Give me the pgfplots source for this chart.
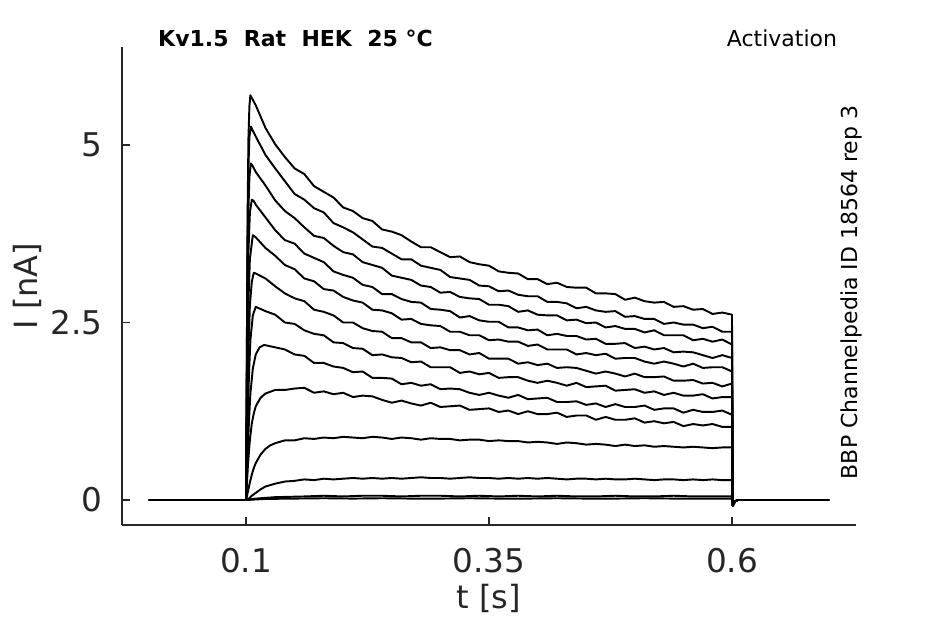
\documentclass[border=0pt]{standalone}
\usepackage{pgfplots}
\pgfplotsset{compat=1.18}
\usepackage{fontspec}
\setmainfont{DejaVu Sans}
\definecolor{axgray}{RGB}{38,38,38}
\pgfplotsset{tr/.style={black, mark=none, line width=1.45pt, line join=round}}
\begin{document}
\begin{tikzpicture}
\path[use as bounding box] (0,0) rectangle (708.75pt,468pt);
\begin{axis}[
  at={(91.5pt,74.25pt)}, anchor=south west,
  scale only axis, width=550.5pt, height=358.5pt,
  xmin=-0.0276, xmax=0.7276, ymin=-0.352, ymax=6.38,
  axis x line*=bottom, axis y line*=left,
  axis line style={axgray, line width=0.9pt},
  tick align=inside, major tick length=6pt,
  every tick/.style={axgray, line width=0.9pt},
  xtick={0.1,0.35,0.6}, xticklabels={0.1,0.35,0.6},
  ytick={0,2.5,5}, yticklabels={0,2.5,5},
  tick label style={font=\fontsize{24.5}{29}\selectfont, text=axgray},
  xticklabel style={anchor=base, yshift=-35.8pt},
  yticklabel style={anchor=east, inner sep=0pt, xshift=-14.25pt},
  xlabel={t [s]}, ylabel={I [nA]},
  label style={font=\fontsize{24}{29}\selectfont, text=axgray},
  xlabel style={at={(axis description cs:0.5,-0.1757)}, anchor=base},
  ylabel style={at={(axis description cs:-0.129,0.5)}, anchor=center},
  clip=false,
]
% trace 1
\addplot[tr] coordinates {(0,0)(0.1,0)(0.1008,2.0)(0.1016,4.0)(0.1025,5.1)(0.1035,5.55)(0.1045,5.70)(0.106,5.66)(0.108,5.61)
(0.11,5.56)(0.12,5.24)(0.13,5.01)
(0.14,4.83)(0.15,4.67)(0.16,4.59)(0.17,4.42)(0.18,4.34)(0.19,4.26)(0.20,4.12)(0.21,4.07)(0.22,3.97)(0.23,3.93)
(0.24,3.81)(0.25,3.78)(0.26,3.73)(0.27,3.64)(0.28,3.56)(0.29,3.56)(0.30,3.49)(0.31,3.42)(0.32,3.43)(0.33,3.35)
(0.34,3.32)(0.35,3.30)(0.36,3.22)(0.37,3.20)(0.38,3.19)(0.39,3.11)(0.40,3.11)(0.41,3.04)(0.42,3.06)(0.43,3.00)
(0.44,2.99)(0.45,2.99)(0.46,2.91)(0.47,2.91)(0.48,2.90)(0.49,2.82)(0.50,2.85)(0.51,2.80)(0.52,2.78)(0.53,2.79)
(0.54,2.72)(0.55,2.73)(0.56,2.68)(0.57,2.69)(0.58,2.62)(0.59,2.64)(0.60,2.61)
(0.6008,-0.08)(0.603,-0.02)(0.606,0)(0.7,0)};
% trace 2
\addplot[tr] coordinates {(0,0)(0.1,0)(0.1008,1.9)(0.1016,3.7)(0.1025,4.7)(0.1035,5.12)(0.105,5.26)(0.107,5.20)
(0.11,5.12)(0.12,4.86)(0.13,4.67)
(0.14,4.49)(0.15,4.31)(0.16,4.23)(0.17,4.11)(0.18,4.05)(0.19,3.90)(0.20,3.84)(0.21,3.77)(0.22,3.67)(0.23,3.57)
(0.24,3.55)(0.25,3.47)(0.26,3.39)(0.27,3.39)(0.28,3.30)(0.29,3.27)(0.30,3.24)(0.31,3.14)(0.32,3.12)(0.33,3.10)
(0.34,3.02)(0.35,3.01)(0.36,2.94)(0.37,2.95)(0.38,2.89)(0.39,2.87)(0.40,2.87)(0.41,2.79)(0.42,2.79)(0.43,2.77)
(0.44,2.70)(0.45,2.72)(0.46,2.67)(0.47,2.65)(0.48,2.66)(0.49,2.58)(0.50,2.59)(0.51,2.55)(0.52,2.55)(0.53,2.48)
(0.54,2.50)(0.55,2.47)(0.56,2.47)(0.57,2.42)(0.58,2.44)(0.59,2.37)(0.60,2.37)
(0.6008,-0.08)(0.603,-0.02)(0.606,0)(0.7,0)};
% trace 3
\addplot[tr] coordinates {(0,0)(0.1,0)(0.1008,1.6)(0.1016,3.1)(0.1025,4.1)(0.1035,4.55)(0.105,4.74)(0.107,4.70)
(0.11,4.62)(0.12,4.43)(0.13,4.22)
(0.14,4.07)(0.15,3.97)(0.16,3.84)(0.17,3.72)(0.18,3.69)(0.19,3.58)(0.20,3.49)(0.21,3.46)(0.22,3.35)(0.23,3.31)
(0.24,3.27)(0.25,3.16)(0.26,3.13)(0.27,3.10)(0.28,3.02)(0.29,3.00)(0.30,2.92)(0.31,2.93)(0.32,2.86)(0.33,2.84)
(0.34,2.83)(0.35,2.75)(0.36,2.75)(0.37,2.73)(0.38,2.65)(0.39,2.67)(0.40,2.61)(0.41,2.60)(0.42,2.60)(0.43,2.53)
(0.44,2.54)(0.45,2.49)(0.46,2.50)(0.47,2.43)(0.48,2.45)(0.49,2.41)(0.50,2.41)(0.51,2.36)(0.52,2.39)(0.53,2.32)
(0.54,2.32)(0.55,2.32)(0.56,2.25)(0.57,2.27)(0.58,2.23)(0.59,2.26)(0.60,2.19)
(0.6008,-0.08)(0.603,-0.02)(0.606,0)(0.7,0)};
% trace 4
\addplot[tr] coordinates {(0,0)(0.1,0)(0.1008,1.3)(0.1016,2.6)(0.1025,3.5)(0.104,4.05)(0.106,4.23)(0.108,4.21)
(0.11,4.16)(0.12,3.98)(0.13,3.80)
(0.14,3.66)(0.15,3.61)(0.16,3.47)(0.17,3.41)(0.18,3.35)(0.19,3.22)(0.20,3.17)(0.21,3.13)(0.22,3.03)(0.23,3.00)
(0.24,2.90)(0.25,2.90)(0.26,2.83)(0.27,2.79)(0.28,2.78)(0.29,2.69)(0.30,2.68)(0.31,2.66)(0.32,2.57)(0.33,2.59)
(0.34,2.53)(0.35,2.51)(0.36,2.51)(0.37,2.43)(0.38,2.43)(0.39,2.39)(0.40,2.40)(0.41,2.32)(0.42,2.34)(0.43,2.31)
(0.44,2.31)(0.45,2.26)(0.46,2.27)(0.47,2.20)(0.48,2.20)(0.49,2.21)(0.50,2.14)(0.51,2.16)(0.52,2.12)(0.53,2.14)
(0.54,2.08)(0.55,2.09)(0.56,2.08)(0.57,2.04)(0.58,2.00)(0.59,2.04)(0.60,2.00)
(0.6008,-0.08)(0.603,-0.02)(0.606,0)(0.7,0)};
% trace 5
\addplot[tr] coordinates {(0,0)(0.1,0)(0.1008,1.0)(0.1016,2.0)(0.1025,2.8)(0.104,3.4)(0.107,3.73)
(0.11,3.70)(0.12,3.55)(0.13,3.44)
(0.14,3.31)(0.15,3.25)(0.16,3.12)(0.17,3.08)(0.18,2.97)(0.19,2.95)(0.20,2.86)(0.21,2.81)(0.22,2.78)(0.23,2.68)
(0.24,2.67)(0.25,2.63)(0.26,2.54)(0.27,2.55)(0.28,2.48)(0.29,2.46)(0.30,2.45)(0.31,2.37)(0.32,2.37)(0.33,2.32)
(0.34,2.32)(0.35,2.25)(0.36,2.26)(0.37,2.23)(0.38,2.23)(0.39,2.17)(0.40,2.19)(0.41,2.12)(0.42,2.12)(0.43,2.12)
(0.44,2.05)(0.45,2.07)(0.46,2.04)(0.47,2.06)(0.48,1.99)(0.49,2.00)(0.50,2.00)(0.51,1.95)(0.52,1.92)(0.53,1.95)
(0.54,1.92)(0.55,1.88)(0.56,1.92)(0.57,1.86)(0.58,1.87)(0.59,1.87)(0.60,1.81)
(0.6008,-0.08)(0.603,-0.02)(0.606,0)(0.7,0)};
% trace 6
\addplot[tr] coordinates {(0,0)(0.1,0)(0.1008,0.7)(0.1016,1.4)(0.1025,2.1)(0.104,2.75)(0.106,3.08)(0.108,3.20)
(0.11,3.19)(0.12,3.12)(0.13,3.01)
(0.14,2.91)(0.15,2.84)(0.16,2.80)(0.17,2.68)(0.18,2.65)(0.19,2.60)(0.20,2.50)(0.21,2.50)(0.22,2.42)(0.23,2.38)
(0.24,2.37)(0.25,2.28)(0.26,2.28)(0.27,2.22)(0.28,2.22)(0.29,2.14)(0.30,2.15)(0.31,2.11)(0.32,2.11)(0.33,2.05)
(0.34,2.07)(0.35,1.99)(0.36,1.99)(0.37,1.99)(0.38,1.92)(0.39,1.94)(0.40,1.90)(0.41,1.92)(0.42,1.86)(0.43,1.87)
(0.44,1.86)(0.45,1.82)(0.46,1.78)(0.47,1.81)(0.48,1.78)(0.49,1.74)(0.50,1.78)(0.51,1.73)(0.52,1.73)(0.53,1.74)
(0.54,1.68)(0.55,1.68)(0.56,1.69)(0.57,1.64)(0.58,1.65)(0.59,1.60)(0.60,1.64)
(0.6008,-0.08)(0.603,-0.02)(0.606,0)(0.7,0)};
% trace 7
\addplot[tr] coordinates {(0,0)(0.1,0)(0.101,0.6)(0.102,1.2)(0.103,1.75)(0.1045,2.25)(0.107,2.6)
(0.11,2.72)(0.12,2.66)(0.13,2.61)
(0.14,2.50)(0.15,2.48)(0.16,2.39)(0.17,2.34)(0.18,2.32)(0.19,2.22)(0.20,2.21)(0.21,2.14)(0.22,2.13)(0.23,2.04)
(0.24,2.05)(0.25,2.01)(0.26,2.00)(0.27,1.94)(0.28,1.95)(0.29,1.87)(0.30,1.87)(0.31,1.87)(0.32,1.79)(0.33,1.81)
(0.34,1.77)(0.35,1.79)(0.36,1.72)(0.37,1.73)(0.38,1.73)(0.39,1.68)(0.40,1.65)(0.41,1.68)(0.42,1.65)(0.43,1.61)
(0.44,1.65)(0.45,1.59)(0.46,1.60)(0.47,1.61)(0.48,1.54)(0.49,1.55)(0.50,1.56)(0.51,1.51)(0.52,1.53)(0.53,1.48)
(0.54,1.51)(0.55,1.47)(0.56,1.47)(0.57,1.49)(0.58,1.43)(0.59,1.45)(0.60,1.45)
(0.6008,-0.08)(0.603,-0.02)(0.606,0)(0.7,0)};
% trace 8
\addplot[tr] coordinates {(0,0)(0.1,0)(0.101,0.35)(0.102,0.75)(0.103,1.1)(0.1045,1.5)(0.107,1.85)(0.11,2.05)(0.114,2.15)(0.118,2.18)
(0.12,2.18)(0.13,2.15)
(0.14,2.12)(0.15,2.05)(0.16,2.03)(0.17,1.93)(0.18,1.93)(0.19,1.88)(0.20,1.86)(0.21,1.80)(0.22,1.81)(0.23,1.72)
(0.24,1.72)(0.25,1.71)(0.26,1.63)(0.27,1.65)(0.28,1.61)(0.29,1.63)(0.30,1.56)(0.31,1.57)(0.32,1.56)(0.33,1.51)
(0.34,1.48)(0.35,1.51)(0.36,1.47)(0.37,1.44)(0.38,1.48)(0.39,1.42)(0.40,1.43)(0.41,1.44)(0.42,1.38)(0.43,1.38)
(0.44,1.39)(0.45,1.34)(0.46,1.36)(0.47,1.31)(0.48,1.35)(0.49,1.31)(0.50,1.31)(0.51,1.33)(0.52,1.27)(0.53,1.29)
(0.54,1.29)(0.55,1.23)(0.56,1.27)(0.57,1.24)(0.58,1.24)(0.59,1.26)(0.60,1.20)
(0.6008,-0.08)(0.603,-0.02)(0.606,0)(0.7,0)};
% trace 9
\addplot[tr] coordinates {(0,0)(0.1,0)(0.101,0.25)(0.102,0.5)(0.104,0.85)(0.106,1.08)(0.108,1.22)(0.11,1.32)(0.115,1.44)(0.12,1.50)(0.13,1.55)
(0.14,1.55)(0.15,1.57)(0.16,1.58)(0.17,1.51)(0.18,1.53)(0.19,1.49)(0.20,1.51)(0.21,1.45)(0.22,1.47)(0.23,1.46)
(0.24,1.41)(0.25,1.37)(0.26,1.40)(0.27,1.36)(0.28,1.33)(0.29,1.37)(0.30,1.31)(0.31,1.32)(0.32,1.33)(0.33,1.27)
(0.34,1.28)(0.35,1.29)(0.36,1.24)(0.37,1.26)(0.38,1.21)(0.39,1.25)(0.40,1.21)(0.41,1.21)(0.42,1.23)(0.43,1.17)
(0.44,1.19)(0.45,1.19)(0.46,1.13)(0.47,1.17)(0.48,1.13)(0.49,1.13)(0.50,1.15)(0.51,1.09)(0.52,1.11)(0.53,1.08)
(0.54,1.10)(0.55,1.04)(0.56,1.07)(0.57,1.05)(0.58,1.07)(0.59,1.03)(0.60,1.03)
(0.6008,-0.08)(0.603,-0.02)(0.606,0)(0.7,0)};
% trace 10
\addplot[tr] coordinates {(0,0)(0.1,0)(0.102,0.12)(0.104,0.25)(0.106,0.36)(0.108,0.45)(0.11,0.52)(0.115,0.64)(0.12,0.72)(0.125,0.77)(0.13,0.80)
(0.14,0.84)(0.15,0.84)(0.16,0.87)(0.17,0.86)(0.18,0.88)(0.19,0.87)(0.20,0.89)(0.21,0.88)(0.22,0.87)(0.23,0.89)
(0.24,0.88)(0.25,0.86)(0.26,0.88)(0.27,0.87)(0.28,0.85)(0.29,0.87)(0.30,0.86)(0.31,0.86)(0.32,0.84)(0.33,0.85)
(0.34,0.85)(0.35,0.83)(0.36,0.84)(0.37,0.83)(0.38,0.83)(0.39,0.81)(0.40,0.82)(0.41,0.81)(0.42,0.79)(0.43,0.81)
(0.44,0.80)(0.45,0.78)(0.46,0.79)(0.47,0.78)(0.48,0.76)(0.49,0.78)(0.50,0.76)(0.51,0.77)(0.52,0.75)(0.53,0.76)
(0.54,0.75)(0.55,0.74)(0.56,0.75)(0.57,0.74)(0.58,0.73)(0.59,0.74)(0.60,0.74)
(0.6008,-0.08)(0.603,-0.02)(0.606,0)(0.7,0)};
% trace 11
\addplot[tr] coordinates {(0,0)(0.1,0)(0.103,0.02)(0.106,0.06)(0.11,0.10)(0.115,0.15)(0.12,0.19)(0.13,0.23)
(0.14,0.26)(0.15,0.27)(0.16,0.29)(0.17,0.28)(0.18,0.30)(0.19,0.29)(0.20,0.30)(0.21,0.31)(0.22,0.30)(0.23,0.31)
(0.24,0.30)(0.25,0.31)(0.26,0.30)(0.27,0.31)(0.28,0.32)(0.29,0.31)(0.30,0.31)(0.31,0.30)(0.32,0.31)(0.33,0.32)
(0.34,0.31)(0.35,0.31)(0.36,0.30)(0.37,0.31)(0.38,0.30)(0.39,0.31)(0.40,0.30)(0.41,0.31)(0.42,0.30)(0.43,0.29)
(0.44,0.30)(0.45,0.30)(0.46,0.29)(0.47,0.30)(0.48,0.29)(0.49,0.29)(0.50,0.30)(0.51,0.29)(0.52,0.28)(0.53,0.29)
(0.54,0.29)(0.55,0.28)(0.56,0.29)(0.57,0.28)(0.58,0.29)(0.59,0.28)(0.60,0.28)
(0.6008,-0.08)(0.603,-0.02)(0.606,0)(0.7,0)};
% trace 12
\addplot[tr] coordinates {(0,0)(0.1,0)(0.11,0.02)(0.13,0.04)(0.16,0.05)(0.18,0.06)(0.20,0.05)(0.22,0.06)(0.24,0.06)(0.26,0.05)
(0.28,0.06)(0.30,0.06)(0.32,0.05)(0.34,0.06)(0.36,0.05)(0.38,0.06)(0.40,0.05)(0.42,0.06)(0.44,0.05)(0.46,0.05)
(0.48,0.06)(0.50,0.05)(0.52,0.05)(0.54,0.06)(0.56,0.05)(0.58,0.05)(0.60,0.05)
(0.6008,-0.08)(0.603,-0.02)(0.606,0)(0.7,0)};
% trace 13
\addplot[tr] coordinates {(0,0)(0.1,0)(0.12,0.015)(0.15,0.02)(0.18,0.025)(0.21,0.02)(0.24,0.025)(0.27,0.02)(0.30,0.02)
(0.33,0.025)(0.36,0.02)(0.39,0.02)(0.42,0.025)(0.45,0.02)(0.48,0.02)(0.51,0.025)(0.54,0.02)(0.57,0.02)(0.60,0.02)
(0.6008,-0.08)(0.603,-0.02)(0.606,0)(0.7,0)};
% text
\node[anchor=base west, inner sep=0pt, font=\fontsize{16.5}{20}\selectfont\bfseries] at (axis description cs:0.049,1.0006) {Kv1.5\ \ Rat\ \ HEK\ \ 25 °C};
\node[anchor=base east, inner sep=0pt, font=\fontsize{16.5}{20}\selectfont] at (axis description cs:0.9745,1.002) {Activation};
\node[anchor=base, inner sep=0pt, rotate=90, font=\fontsize{16.5}{20}\selectfont] at (axis description cs:1.0023,0.4864) {BBP Channelpedia ID 18564 rep 3};
\end{axis}
\end{tikzpicture}
\end{document}
